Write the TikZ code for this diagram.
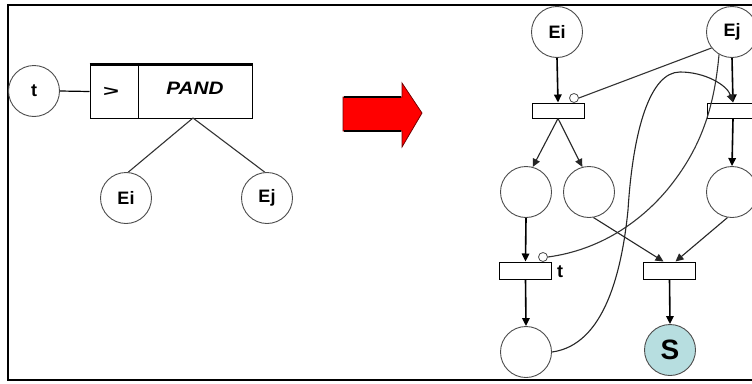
\documentclass[tikz,border=0pt]{standalone}
\usepackage{fontspec}
\setmainfont{Liberation Sans}
\usepackage{graphicx}
\usetikzlibrary{arrows.meta}
\definecolor{sfill}{RGB}{183,222,224}
\definecolor{arrred}{RGB}{255,0,0}
\begin{document}
\begin{tikzpicture}[x=1pt,y=-1pt,
  place/.style={circle,draw=black!70,line width=0.9pt,minimum size=51pt,inner sep=0pt,font=\fontsize{18}{18}\selectfont\bfseries},
  trans/.style={rectangle,draw=black,line width=1pt,minimum width=52pt,minimum height=15pt,inner sep=0pt},
  inh/.style={circle,draw=black!70,fill=white,line width=0.8pt,minimum size=9pt,inner sep=0pt},
  arr/.style={-{Triangle[length=8pt,width=7.5pt]},line width=1.6pt},
  thinarr/.style={-{Triangle[length=8pt,width=7.5pt]},line width=1.1pt,draw=black!85},
  link/.style={line width=1.1pt,draw=black!80},
  lbl/.style={font=\fontsize{18}{18}\selectfont\bfseries,inner sep=0pt}
]
\useasboundingbox (0,0) rectangle (752,383);
\fill[white] (0,0) rectangle (752,383);
% frame
\draw[line width=1.6pt] (8,5) rectangle (775,380);

% ---------- left: fault tree gate ----------
\node[place] (tL) at (34,91) {t};
\node[draw,line width=1pt,minimum width=162pt,minimum height=53pt,inner sep=0pt] (box) at (171,91.5) {};
\draw[line width=2.2pt] (box.north west) -- (box.north east);
\coordinate (dv) at (138,0);
\draw[line width=1pt] (dv |- box.north) -- (dv |- box.south);
\node[inner sep=0pt] (gt) at (111,92) {\fontsize{17}{17}\selectfont\bfseries\scalebox{1.6}[0.9]{>}};
\node[inner sep=0pt] (pand) at (195,88) {\fontsize{18}{18}\selectfont\bfseries\itshape\scalebox{1.15}[1]{PAND}};
\node[place] (EiL) at (126,198) {Ei};
\node[place] (EjL) at (267,198) {Ej};
\coordinate (bb) at (193,118);
\draw[line width=1.2pt] (tL.east) -- (box.west);
\draw[link] (bb) -- (EiL.85);
\draw[link] (bb) -- (EjL.95);

% ---------- red arrow ----------
\draw[fill=arrred,draw=black!55!red,line width=0.8pt]
  (343,97) -- (402,97) -- (402,83) -- (422,113) -- (402,147) -- (402,131) -- (343,131) -- cycle;
\draw[line width=1.3pt] (344,97) -- (401,97);
\draw[line width=1.3pt] (344,131) -- (401,131);

% ---------- right: Petri net ----------
\node[place] (EiR) at (557,32) {Ei};
\node[place] (EjR) at (732,32) {Ej};
\node[trans] (T1) at (558,110.5) {};
\node[trans] (T2) at (733,110.5) {};
\node[inh] (inh1) at (574,98) {};
\node[place] (P1) at (526,192) {};
\node[place] (P2) at (589,192) {};
\node[place] (P3) at (732,192) {};
\node[trans,minimum height=17pt] (T3) at (525.5,270.5) {};
\node[trans,minimum height=17pt] (T4) at (669.5,270.5) {};
\node[inh] (inh3) at (543,257) {};
\node[lbl,anchor=west] (tlab) at (557,272) {t};
\node[place] (Pb) at (526,352) {};
\node[place,fill=sfill,font=\fontsize{28}{28}\selectfont\bfseries] (S) at (670,350) {S};

\draw[arr] (EiR.south) -- (T1.north);
\draw[thinarr] (T1.south) -- (P1.75);
\draw[thinarr] (T1.south) -- (P2.105);
\draw[arr] (EjR.south) -- (T2.north);
\draw[arr] (T2.south) -- (P3.north);
\draw[arr] (P1.south) -- (T3.north);
\draw[arr] (T3.south) -- (Pb.north);
\draw[arr] (T4.south) -- (S.north);
\draw[thinarr] (P2.-80) -- ([xshift=-6pt]T4.north);
\draw[thinarr] (P3.-100) -- ([xshift=6pt]T4.north);
\draw[link] (EjR.218) -- (inh1.east);
\draw[link] (EjR.240) .. controls (714,110) and (700,150) .. (667,190)
  .. controls (640,222) and (600,250) .. (inh3.east);
\draw[thinarr] (Pb.east) .. controls (605,345) and (622,270) .. (628,210)
  .. controls (633,130) and (650,72) .. (680,72)
  .. controls (705,72) and (727,85) .. (T2.north);
\end{tikzpicture}
\end{document}
